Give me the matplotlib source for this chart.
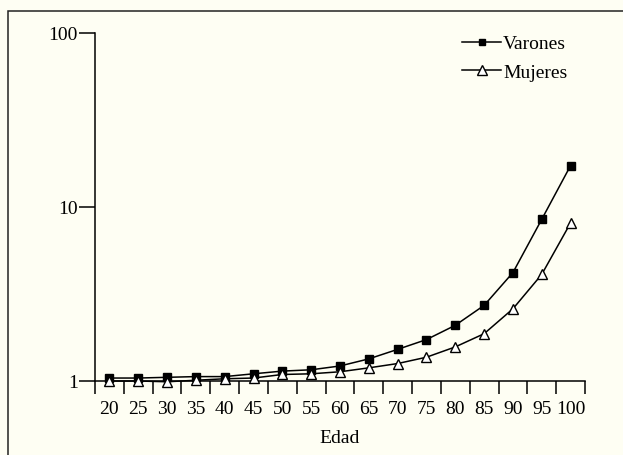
import matplotlib
matplotlib.use('Agg')
import matplotlib.pyplot as plt
from matplotlib.patches import Rectangle
from matplotlib.lines import Line2D

# Datos (escala logaritmica)
edades = ['20', '25', '30', '35', '40', '45', '50', '55', '60', '65',
          '70', '75', '80', '85', '90', '95', '100']
varones = [1.04, 1.04, 1.05, 1.06, 1.06, 1.10, 1.14, 1.16, 1.22, 1.34,
           1.52, 1.73, 2.09, 2.72, 4.2, 8.5, 17.3]
mujeres = [1.0, 1.0, 0.99, 1.01, 1.03, 1.04, 1.09, 1.10, 1.13, 1.19,
           1.26, 1.37, 1.57, 1.87, 2.6, 4.1, 8.1]

plt.rcParams['font.family'] = ['Liberation Serif', 'DejaVu Serif']
bg = '#fefef3'
fs = 14

fig = plt.figure(figsize=(6.23, 4.56), dpi=100, facecolor=bg)
ax = fig.add_axes([95 / 623, 1 - 382 / 456, 490 / 623, 348 / 456])
ax.set_facecolor(bg)

# marco exterior
fig.patches.append(Rectangle((8 / 623, -0.1), 1.0, 1.1 - 12 / 456,
                             transform=fig.transFigure, fill=False,
                             edgecolor='#222222', linewidth=1.1))

x = list(range(len(edades)))
ax.plot(x, varones, color='black', lw=1.1, marker='s', ms=6,
        mfc='black', mec='black', clip_on=False, label='Varones', zorder=3)
ax.plot(x, mujeres, color='black', lw=1.1, marker='^', ms=7.5,
        mfc='white', mec='black', mew=1.0, clip_on=False, label='Mujeres', zorder=4)

ax.set_yscale('log')
ax.set_ylim(1, 100)
ax.set_xlim(-0.5, len(edades) - 0.5)
ax.set_yticks([1, 10, 100])
ax.set_yticklabels(['1', '10', '100'])
ax.minorticks_off()
ax.tick_params(axis='y', length=11.5, width=1.1, labelsize=fs, pad=1)

# etiquetas en el centro, marcas en los limites
ax.set_xticks(x)
ax.set_xticklabels(edades)
ax.tick_params(axis='x', which='major', length=0, labelsize=fs, pad=13.5)
ax.set_xticks([i - 0.5 for i in range(len(edades) + 1)], minor=True)
ax.tick_params(axis='x', which='minor', length=9.5, width=1.1, direction='out')

for s in ['top', 'right']:
    ax.spines[s].set_visible(False)
for s in ['left', 'bottom']:
    ax.spines[s].set_linewidth(1.1)

ax.set_xlabel('Edad', fontsize=fs, labelpad=9)

handles = [Line2D([], [], color='black', lw=1.1, marker='s', ms=5),
           Line2D([], [], color='black', lw=1.1, marker='^', ms=6.5,
                  mfc='white', mec='black')]
ax.legend(handles, ['Varones', 'Mujeres'], loc='upper right',
          bbox_to_anchor=(1.0, 1.045), frameon=False, fontsize=fs,
          handlelength=2.0, handletextpad=0.1, labelspacing=0.55)

fig.savefig('out.png', dpi=100, facecolor=bg)
